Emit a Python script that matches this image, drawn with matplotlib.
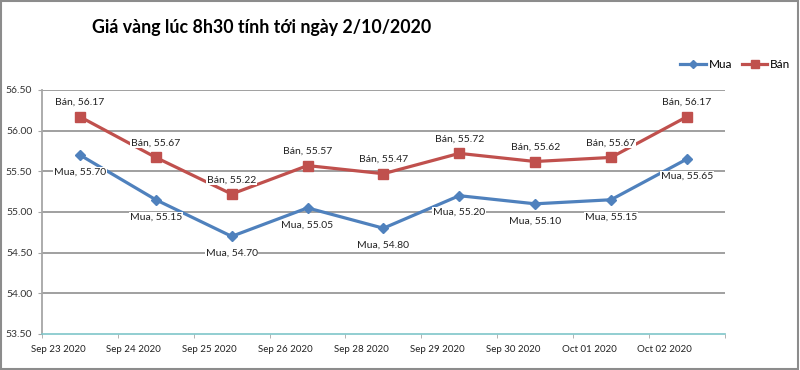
import numpy as np
import matplotlib
matplotlib.use("Agg")
import matplotlib.pyplot as plt
from matplotlib.patches import Rectangle

# Data
dates = ["Sep 23 2020", "Sep 24 2020", "Sep 25 2020", "Sep 26 2020", "Sep 28 2020",
         "Sep 29 2020", "Sep 30 2020", "Oct 01 2020", "Oct 02 2020"]
mua = [55.70, 55.15, 54.70, 55.05, 54.80, 55.20, 55.10, 55.15, 55.65]
ban = [56.17, 55.67, 55.22, 55.57, 55.47, 55.72, 55.62, 55.67, 56.17]
yticks = [53.50, 54.00, 54.50, 55.00, 55.50, 56.00, 56.50]

title = "Giá vàng lúc 8h30 tính tới ngày 2/10/2020"
blue = "#4F81BD"
red = "#C0504D"

plt.rcParams['font.family'] = ['Lato', 'DejaVu Sans']

fig = plt.figure(figsize=(8, 3.7), dpi=100)
ax = fig.add_axes([0.0525, 0.0973, 0.906 - 0.0525, 0.757 - 0.0973])

x = np.arange(len(dates))

# gridlines
for yv in yticks[1:]:
    ax.axhline(yv, color="#A0A0A0", lw=1.4, zorder=0)

ax.plot(x, mua, color=blue, lw=2.3, marker="D", ms=5, label="Mua", zorder=3)
ax.plot(x, ban, color=red, lw=2.3, marker="s", ms=6.5, label="Bán", zorder=3)

box = dict(facecolor="white", edgecolor="none", pad=0.5)
for xi, v in zip(x, ban):
    ax.annotate(f"Bán, {v:.2f}", (xi, v), xytext=(0, 7), textcoords="offset points",
                ha="center", va="bottom", fontsize=7.5, color="#222222", bbox=box, zorder=4)
for xi, v in zip(x, mua):
    ax.annotate(f"Mua, {v:.2f}", (xi, v), xytext=(0, -9), textcoords="offset points",
                ha="center", va="top", fontsize=7.5, color="#222222", bbox=box, zorder=4)

ax.set_xlim(-0.5, len(dates) - 0.5)
ax.set_ylim(53.5, 56.5)
ax.set_yticks(yticks)
ax.set_yticklabels([f"{v:.2f}" for v in yticks], fontsize=7.5, color="#333333")

# tick marks on category boundaries, labels shifted a little left like Excel
ax.set_xticks(np.arange(len(dates) + 1) - 0.5, minor=True)
ax.set_xticks(x - 0.29)
ax.set_xticklabels(dates, fontsize=7, color="#222222")
ax.tick_params(axis="x", which="major", length=0, pad=8)
ax.tick_params(axis="x", which="minor", length=3, color="#A6A6A6")
ax.tick_params(axis="y", length=3, color="#A6A6A6", pad=4)

for s in ["top", "right"]:
    ax.spines[s].set_visible(False)
ax.spines["left"].set_color("#A6A6A6")
ax.spines["left"].set_linewidth(1.3)
ax.spines["bottom"].set_color("#7FC6C9")
ax.spines["bottom"].set_linewidth(1.2)

fig.text(0.115, 0.925, title, fontsize=12.8, fontweight="bold", va="center", ha="left")

ax.legend(loc="center right", bbox_to_anchor=(0.995, 0.825), bbox_transform=fig.transFigure,
          ncol=2, frameon=False, fontsize=8.5, handlelength=2.2, handletextpad=0.2,
          columnspacing=0.8, borderpad=0, markerscale=0.8)

fig.patches.append(Rectangle((0.001, 0.002), 0.997, 0.995, transform=fig.transFigure,
                             fill=False, edgecolor="#8C8C8C", lw=1.5))

plt.savefig("out.png", dpi=100)
